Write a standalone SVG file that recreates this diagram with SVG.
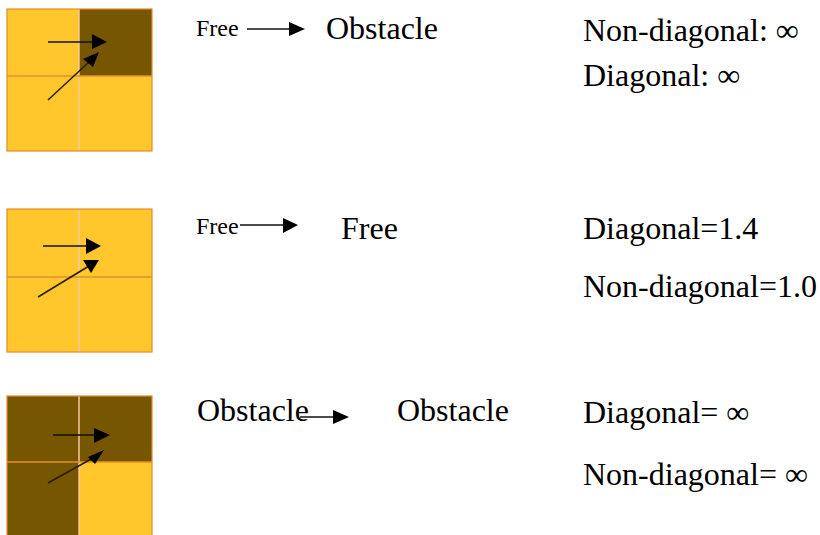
<svg xmlns="http://www.w3.org/2000/svg" width="820" height="535" viewBox="0 0 820 535">
<style>
.y{fill:#FFC72C}
.d{fill:#775600}
.b{fill:none;stroke:#E58A2B;stroke-width:1.2}
.vl{stroke:#F6C89A;stroke-width:1.5}
.hl{stroke:#E0902E;stroke-width:1.5}
.ln{stroke:#111;stroke-width:1.5;fill:none}
.dl{stroke:#2a1a00;stroke-width:1.5;fill:none}
.hd{fill:#000}
.t{font-size:32px;fill:#000}
.s{font-size:24px;fill:#000}
</style>
<rect width="820" height="535" fill="#fff"/>
<g id="grid1">
<rect class="y" x="7" y="9" width="145" height="142"/>
<rect class="d" x="79" y="9" width="73" height="67"/>
<line class="vl" x1="79" y1="9" x2="79" y2="151"/>
<line class="hl" x1="7" y1="76" x2="152" y2="76"/>
<rect class="b" x="7" y="9" width="145" height="142"/>
</g>
<g id="grid2">
<rect class="y" x="7" y="209" width="145" height="143"/>
<line class="vl" x1="79" y1="209" x2="79" y2="352"/>
<line class="hl" x1="7" y1="277" x2="152" y2="277"/>
<rect class="b" x="7" y="209" width="145" height="143"/>
</g>
<g id="grid3">
<rect class="y" x="7" y="396" width="145" height="142"/>
<rect class="d" x="7" y="396" width="145" height="66"/>
<rect class="d" x="7" y="462" width="72" height="76"/>
<line class="vl" x1="79" y1="396" x2="79" y2="538"/>
<line class="hl" x1="7" y1="462" x2="152" y2="462"/>
<rect class="b" x="7" y="396" width="145" height="142"/>
</g>
<g font-family="'Liberation Serif', 'DejaVu Serif', serif">
<g id="row1-text">
<text class="s" x="196" y="36">Free</text>
<text class="t" x="326" y="39">Obstacle</text>
<text class="t" x="583" y="41">Non-diagonal: ∞</text>
<text class="t" x="583" y="86">Diagonal: ∞</text>
</g>
<g id="row2-text">
<text class="s" x="196" y="234">Free</text>
<text class="t" x="341" y="239">Free</text>
<text class="t" x="583" y="239">Diagonal=1.4</text>
<text class="t" x="583" y="297">Non-diagonal=1.0</text>
</g>
<g id="row3-text">
<text class="t" x="197" y="421">Obstacle</text>
<text class="t" x="397" y="421">Obstacle</text>
<text class="t" x="583" y="423">Diagonal= ∞</text>
<text class="t" x="583" y="485">Non-diagonal= ∞</text>
</g>
</g>
<g id="connectors">
<line class="ln" x1="48" y1="42" x2="93" y2="42"/>
<polygon class="hd" points="92,34 107,42 92,49"/>
<line class="dl" x1="48" y1="100" x2="89" y2="62"/>
<polygon class="hd" points="83,59 99,52 93,67"/>
<line class="ln" x1="43" y1="246" x2="87" y2="246"/>
<polygon class="hd" points="86,238 101,246 86,254"/>
<line class="dl" x1="38" y1="297" x2="89" y2="266"/>
<polygon class="hd" points="83,260 99,260 91,273"/>
<line class="ln" x1="53" y1="435" x2="95" y2="435"/>
<polygon class="hd" points="94,428 110,435 94,443"/>
<line class="dl" x1="48" y1="483" x2="93" y2="458"/>
<polygon class="hd" points="88,457 104,450 95,464"/>
<line class="ln" x1="247" y1="29" x2="290" y2="29"/>
<polygon class="hd" points="289,22 305,29 289,36"/>
<line class="ln" x1="240" y1="225" x2="284" y2="225"/>
<polygon class="hd" points="283,218 298,225 283,233"/>
<line class="ln" x1="300" y1="417" x2="334" y2="417"/>
<polygon class="hd" points="333,410 349,417 333,424"/>
</g>
</svg>
